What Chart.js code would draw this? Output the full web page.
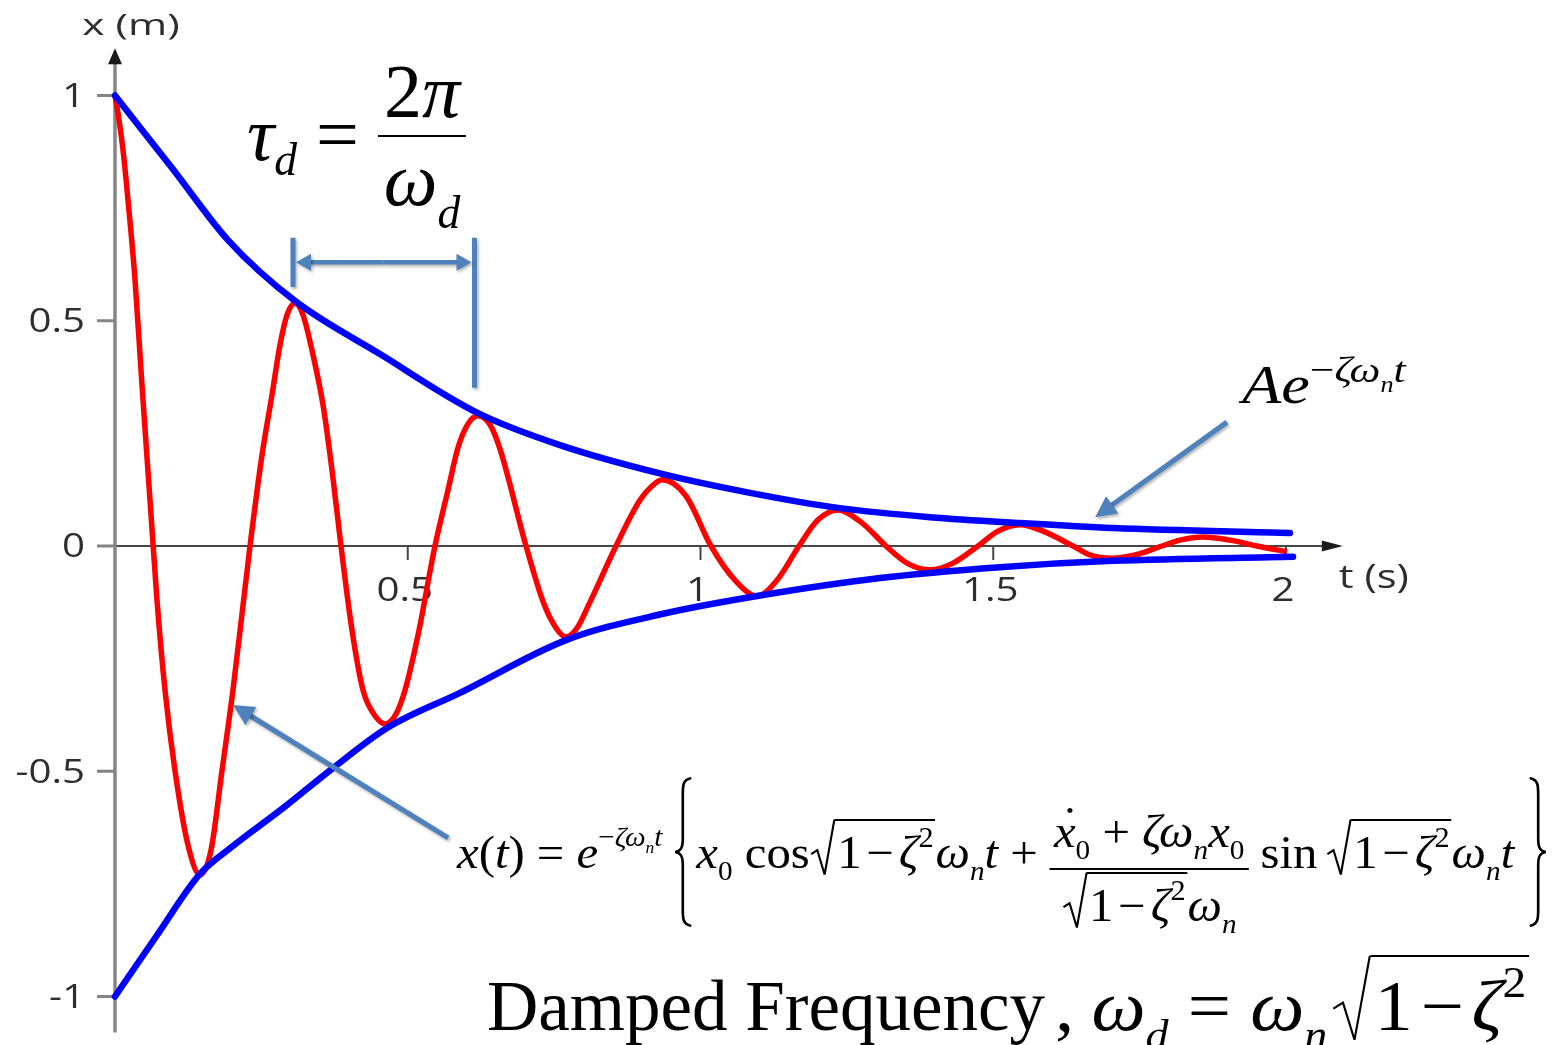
<!DOCTYPE html>
<html lang="en">
<head>
<meta charset="utf-8">
<title>Damped free vibration</title>
<script src="https://cdn.jsdelivr.net/npm/chart.js@4.4.1/dist/chart.umd.min.js"></script>
<style>
  html, body { margin: 0; padding: 0; background: #fff; }
  #stage { position: relative; width: 1554px; height: 1045px; overflow: hidden; }
  #plot { position: absolute; left: 0; top: 0; }
  .m { position: absolute; top: 0; font-family: "Liberation Serif", "Times New Roman", serif; color: #000; white-space: nowrap; line-height: 1; transform-origin: 0 0; }
  .m i { font-style: italic; }
  .bl { display: inline-block; width: 0; height: 0; vertical-align: baseline; }
  .sb { font-size: 0.6em; vertical-align: -0.45em; }
  .sp { font-size: 0.62em; vertical-align: 0.75em; }
  .mi { margin: 0 0.1em; }
  .fr { display: inline-flex; flex-direction: column; align-items: center; }
  .fr .nu { border-bottom: 2px solid #000; padding: 0 0.08em 0.08em; }
  .fr .de { padding-top: 0.06em; }
  .sq { display: inline-block; position: relative; padding-left: 0.5em; }
  .sq svg { position: absolute; left: 0; top: 0; width: 0.5em; height: 100%; overflow: visible; }
  .sq .ol { display: inline-block; border-top: 2px solid #000; padding: 0.05em 0.04em 0 0.06em; }
  .brace { display: inline-block; width: 20px; height: 150px; }
  .dot { position: relative; }
  .dot::after { content: "\02D9"; position: absolute; left: 0.16em; top: -0.1em; font-style: normal; }
  .wide { display: inline-block; transform-origin: 0 100%; }
</style>
</head>
<body>
<div id="stage">
  <canvas id="plot" width="1554" height="1045"></canvas>

  <div class="m" data-base="160" style="left:247px;font-size:76px"><span class="bl"></span><i>τ</i><span class="sb" style="vertical-align:-0.33em"><i>d</i></span>&nbsp;=&nbsp;<span class="fr" style="vertical-align:0.57em"><span class="nu">2<i>π</i></span><span class="de"><i>ω</i><span class="sb" style="vertical-align:-0.5em"><i>d</i></span></span></span></div>

  <div class="m" data-base="403" style="left:1242px;font-size:54px;transform:scaleX(1.19)"><span class="bl"></span><i>Ae</i><span class="sp" style="font-size:0.68em;vertical-align:0.57em">−<i>ζω</i><span class="sb"><i>n</i></span><i>t</i></span></div>

  <div class="m" data-base="868" style="left:457px;font-size:46px;transform:scaleX(1.06)"><span class="bl"></span><i>x</i>(<i>t</i>) = <i>e</i><span class="sp" style="font-size:0.6em;vertical-align:0.8em">−<i>ζω</i><span class="sb"><i>n</i></span><i>t</i></span><svg class="brace" viewBox="0 0 20 150" preserveAspectRatio="none" style="vertical-align:-59px;margin:0 2px 0 10px"><path d="M17 1 C9 3 9 8 9 18 L9 62 C9 71 7 74 2 75 C7 76 9 79 9 88 L9 132 C9 142 9 147 17 149" fill="none" stroke="#000" stroke-width="2.5"/></svg><i>x</i><span class="sb">0</span> cos<span class="sq"><span class="ol">1<span class="mi">−</span><i>ζ</i><span class="sp">2</span></span></span><i>ω</i><span class="sb"><i>n</i></span><i>t</i> + <span class="fr" style="vertical-align:0.46em"><span class="nu"><span class="dot"><i>x</i></span><span class="sb">0</span> + <i>ζω</i><span class="sb"><i>n</i></span><i>x</i><span class="sb">0</span></span><span class="de"><span class="sq"><span class="ol">1<span class="mi">−</span><i>ζ</i><span class="sp">2</span></span></span><i>ω</i><span class="sb"><i>n</i></span></span></span> sin<span class="sq" style="margin-left:8px"><span class="ol">1<span class="mi">−</span><i>ζ</i><span class="sp">2</span></span></span><i>ω</i><span class="sb"><i>n</i></span><i>t</i><svg class="brace" viewBox="0 0 20 150" preserveAspectRatio="none" style="vertical-align:-59px;margin-left:12px"><path d="M3 1 C11 3 11 8 11 18 L11 62 C11 71 13 74 18 75 C13 76 11 79 11 88 L11 132 C11 142 11 147 3 149" fill="none" stroke="#000" stroke-width="2.5"/></svg></div>

  <div class="m" data-base="1030" style="left:487px;font-size:71px"><span class="bl"></span>Damped Frequency<span class="wide" style="transform:scaleX(1.08);margin-left:10px">,<span style="margin-left:16px"></span><i>ω</i><span class="sb"><i>d</i></span> = <i>ω</i><span class="sb"><i>n</i></span><span class="sq" style="margin-left:4px"><span class="ol">1<span class="mi">−</span><i>ζ</i><span class="sp">2</span></span></span></span></div>
</div>

<script>
// response x(t): peaks, troughs, zero crossings and flank points
const respT = [0, 0.0051, 0.0137, 0.0222, 0.0342, 0.0461, 0.0598, 0.0717, 0.0854, 0.1025, 0.1247, 0.1452,
  0.1640, 0.1827, 0.2015, 0.2306, 0.2511, 0.2681, 0.2818, 0.2938, 0.3074,
  0.3211, 0.3382, 0.3553, 0.3706, 0.3860, 0.4048, 0.4236, 0.4441, 0.4611,
  0.4799, 0.4953, 0.5175, 0.5465, 0.5687, 0.5858, 0.6029, 0.6200,
  0.6405, 0.6576, 0.7020, 0.7327, 0.7532, 0.7703,
  0.7891, 0.8096, 0.8557, 0.8967, 0.9172, 0.9342,
  0.9752, 1.0179, 1.0589, 1.0965, 1.1306, 1.1682, 1.2007, 1.2348,
  1.2741, 1.3168, 1.3527, 1.3920, 1.4313, 1.4740, 1.5081, 1.5457,
  1.5850, 1.6362, 1.6652, 1.7045, 1.7421, 1.7882, 1.8190, 1.8582,
  1.9044, 1.9505, 2.0017];
const respX = [1.0, 0.961, 0.879, 0.768, 0.591, 0.357, 0.102, -0.120, -0.320, -0.499, -0.664, -0.730,
  -0.675, -0.499, -0.320, 0, 0.202, 0.335, 0.446, 0.513, 0.539,
  0.513, 0.424, 0.313, 0.169, 0, -0.187, -0.320, -0.377, -0.395,
  -0.373, -0.320, -0.198, 0, 0.124, 0.218, 0.271, 0.289,
  0.269, 0.215, 0, -0.129, -0.182, -0.202,
  -0.182, -0.129, 0, 0.102, 0.133, 0.147,
  0.111, 0, -0.076, -0.111, -0.076, 0, 0.058, 0.080,
  0.053, 0, -0.038, -0.053, -0.038, 0, 0.033, 0.047,
  0.033, 0, -0.020, -0.027, -0.020, 0, 0.013, 0.020,
  0.013, 0, -0.013];

// decay envelope A e^(-zeta wn t), upper and lower branch
const upperT = [0, 0.0974, 0.1930, 0.3074, 0.4526, 0.6200, 0.7600, 0.9342, 1.0845, 1.2383, 1.3920, 1.5457, 1.7045, 2.0068];
const upperX = [1.0, 0.839, 0.679, 0.544, 0.426, 0.295, 0.224, 0.160, 0.118, 0.084, 0.064, 0.051, 0.040, 0.029];
const lowerT = [0, 0.0717, 0.1452, 0.2015, 0.2869, 0.3723, 0.4646, 0.5892, 0.7703, 0.9342, 1.0965, 1.3066, 1.5115, 1.7045, 2.0120];
const lowerX = [-1.0, -0.864, -0.728, -0.666, -0.582, -0.493, -0.404, -0.326, -0.209, -0.151, -0.111, -0.071, -0.047, -0.033, -0.024];

const xTicks = [0.5, 1, 1.5, 2];
const xTickLabels = ["0.5", "1", "1.5", "2"];
const yTicks = [1, 0.5, 0, -0.5, -1];
const yTickLabels = ["1", "0.5", "0", "-0.5", "-1"];

// visible window of the plot (axes drawn through the origin)
const view = { xMin: -0.1964, xMax: 2.4577, yMin: -1.1077, yMax: 1.2120 };
const axisEnds = { xTip: 2.097, yTip: 1.105, yBottom: -1.080 };

// annotation marks, in data units
const periodMark = { t1: 0.304, t2: 0.614, top: 0.684, leftBottom: 0.575, rightBottom: 0.351, arrowY: 0.630 };
const pointers = [
  { from: [1.899, 0.275], to: [1.674, 0.064] },
  { from: [0.569, -0.648], to: [0.2015, -0.353] }
];

const ARROW_BLUE = "#4f81bd";

function toPoints(ts, xs) {
  return ts.map((t, i) => ({ x: t, y: xs[i] }));
}

function stretchedText(ctx, text, x, y, align, sx) {
  ctx.save();
  ctx.translate(x, y);
  ctx.scale(sx, 1);
  ctx.textAlign = align;
  ctx.fillText(text, 0, 0);
  ctx.restore();
}

const axesPlugin = {
  id: "axesPlugin",
  beforeDatasetsDraw(chart) {
    const ctx = chart.ctx;
    const xs = chart.scales.x;
    const ys = chart.scales.y;
    const ox = xs.getPixelForValue(0);
    const oy = ys.getPixelForValue(0);
    const yTip = ys.getPixelForValue(axisEnds.yTip);
    const xTip = xs.getPixelForValue(axisEnds.xTip);

    ctx.save();
    ctx.lineCap = "butt";

    // horizontal axis
    ctx.strokeStyle = "#474747";
    ctx.lineWidth = 2;
    ctx.beginPath();
    ctx.moveTo(ox, oy);
    ctx.lineTo(xTip - 16, oy);
    ctx.stroke();
    ctx.fillStyle = "#1a1a1a";
    ctx.beginPath();
    ctx.moveTo(xTip, oy);
    ctx.lineTo(xTip - 21, oy - 5.5);
    ctx.lineTo(xTip - 21, oy + 5.5);
    ctx.closePath();
    ctx.fill();

    xTicks.forEach((v) => {
      const px = xs.getPixelForValue(v);
      ctx.beginPath();
      ctx.moveTo(px, oy);
      ctx.lineTo(px, oy + 14);
      ctx.stroke();
    });

    // vertical axis
    ctx.strokeStyle = "#858585";
    ctx.lineWidth = 3.5;
    ctx.beginPath();
    ctx.moveTo(ox, ys.getPixelForValue(axisEnds.yBottom));
    ctx.lineTo(ox, yTip + 12);
    ctx.stroke();
    ctx.beginPath();
    ctx.moveTo(ox, yTip);
    ctx.lineTo(ox - 7, yTip + 16);
    ctx.lineTo(ox + 7, yTip + 16);
    ctx.closePath();
    ctx.fill();

    ctx.lineWidth = 3;
    yTicks.forEach((v) => {
      const py = ys.getPixelForValue(v);
      ctx.beginPath();
      ctx.moveTo(ox - 18, py);
      ctx.lineTo(ox, py);
      ctx.stroke();
    });

    // tick labels
    ctx.fillStyle = "#2e2e2e";
    ctx.font = "33px 'Open Sans', sans-serif";
    ctx.textBaseline = "middle";
    yTicks.forEach((v, i) => {
      stretchedText(ctx, yTickLabels[i], ox - 30, ys.getPixelForValue(v) + 2, "right", 1.22);
    });
    xTicks.forEach((v, i) => {
      stretchedText(ctx, xTickLabels[i], xs.getPixelForValue(v) - 3, oy + 46, "center", 1.22);
    });

    // axis titles
    ctx.font = "29px 'Open Sans', sans-serif";
    stretchedText(ctx, "x (m)", ox + 16, yTip - 21, "center", 1.46);
    ctx.font = "32px 'Open Sans', sans-serif";
    stretchedText(ctx, "t (s)", xTip - 4, oy + 33, "left", 1.3);
    ctx.restore();
  }
};

function arrowHead(ctx, x1, y1, x2, y2, len, half) {
  const a = Math.atan2(y2 - y1, x2 - x1);
  ctx.beginPath();
  ctx.moveTo(x2, y2);
  ctx.lineTo(x2 - len * Math.cos(a) + half * Math.sin(a), y2 - len * Math.sin(a) - half * Math.cos(a));
  ctx.lineTo(x2 - len * Math.cos(a) - half * Math.sin(a), y2 - len * Math.sin(a) + half * Math.cos(a));
  ctx.closePath();
  ctx.fill();
}

function arrowLine(ctx, x1, y1, x2, y2, len, half) {
  const a = Math.atan2(y2 - y1, x2 - x1);
  ctx.beginPath();
  ctx.moveTo(x1, y1);
  ctx.lineTo(x2 - (len - 2) * Math.cos(a), y2 - (len - 2) * Math.sin(a));
  ctx.stroke();
  arrowHead(ctx, x1, y1, x2, y2, len, half);
}

const annotationPlugin = {
  id: "annotationPlugin",
  afterDatasetsDraw(chart) {
    const ctx = chart.ctx;
    const xs = chart.scales.x;
    const ys = chart.scales.y;
    ctx.save();
    ctx.strokeStyle = ARROW_BLUE;
    ctx.fillStyle = ARROW_BLUE;
    ctx.shadowColor = "rgba(0,0,0,0.3)";
    ctx.shadowBlur = 3;
    ctx.shadowOffsetX = 1.5;
    ctx.shadowOffsetY = 2;

    // damped period marker
    const x1 = xs.getPixelForValue(periodMark.t1);
    const x2 = xs.getPixelForValue(periodMark.t2);
    const top = ys.getPixelForValue(periodMark.top);
    const ay = ys.getPixelForValue(periodMark.arrowY);
    ctx.lineWidth = 5;
    ctx.beginPath();
    ctx.moveTo(x1, top);
    ctx.lineTo(x1, ys.getPixelForValue(periodMark.leftBottom));
    ctx.moveTo(x2, top);
    ctx.lineTo(x2, ys.getPixelForValue(periodMark.rightBottom));
    ctx.stroke();
    ctx.lineWidth = 4.5;
    const mid = (x1 + x2) / 2;
    arrowLine(ctx, mid, ay, x1 + 3, ay, 15, 8.5);
    arrowLine(ctx, mid, ay, x2 - 3, ay, 15, 8.5);

    // pointers to the envelope and to the response
    ctx.lineWidth = 5;
    pointers.forEach((p) => {
      arrowLine(ctx,
        xs.getPixelForValue(p.from[0]), ys.getPixelForValue(p.from[1]),
        xs.getPixelForValue(p.to[0]), ys.getPixelForValue(p.to[1]), 21, 10.5);
    });
    ctx.restore();
  }
};

new Chart(document.getElementById("plot"), {
  type: "line",
  data: {
    datasets: [
      {
        label: "upper envelope",
        data: toPoints(upperT, upperX),
        borderColor: "#0000ff",
        borderWidth: 6.5,
        borderCapStyle: "round",
        pointRadius: 0,
        cubicInterpolationMode: "monotone",
        fill: false
      },
      {
        label: "lower envelope",
        data: toPoints(lowerT, lowerX),
        borderColor: "#0000ff",
        borderWidth: 6.5,
        borderCapStyle: "round",
        pointRadius: 0,
        cubicInterpolationMode: "monotone",
        fill: false
      },
      {
        label: "x(t)",
        data: toPoints(respT, respX),
        borderColor: "#ff0000",
        borderWidth: 5.5,
        pointRadius: 0,
        cubicInterpolationMode: "monotone",
        fill: false
      }
    ]
  },
  options: {
    responsive: false,
    animation: false,
    events: [],
    layout: { padding: 0 },
    plugins: {
      legend: { display: false },
      tooltip: { enabled: false }
    },
    scales: {
      x: { type: "linear", min: view.xMin, max: view.xMax, display: false },
      y: { type: "linear", min: view.yMin, max: view.yMax, display: false }
    }
  },
  plugins: [axesPlugin, annotationPlugin]
});

// radical signs for every square root
const RADICAL = '<svg viewBox="0 0 20 100" preserveAspectRatio="none"><path d="M1 62 L6 55 L12 98 L20 1" fill="none" stroke="#000" stroke-width="2" vector-effect="non-scaling-stroke"/></svg>';
document.querySelectorAll(".sq").forEach((el) => el.insertAdjacentHTML("afterbegin", RADICAL));

// put each formula's baseline at its data-base y
function placeFormulas() {
  document.querySelectorAll(".m").forEach((el) => {
    const marker = el.querySelector(".bl");
    const offset = marker.getBoundingClientRect().top - el.getBoundingClientRect().top;
    el.style.top = `${Number(el.dataset.base) - offset}px`;
  });
}
placeFormulas();
document.fonts.ready.then(placeFormulas);
</script>
</body>
</html>
